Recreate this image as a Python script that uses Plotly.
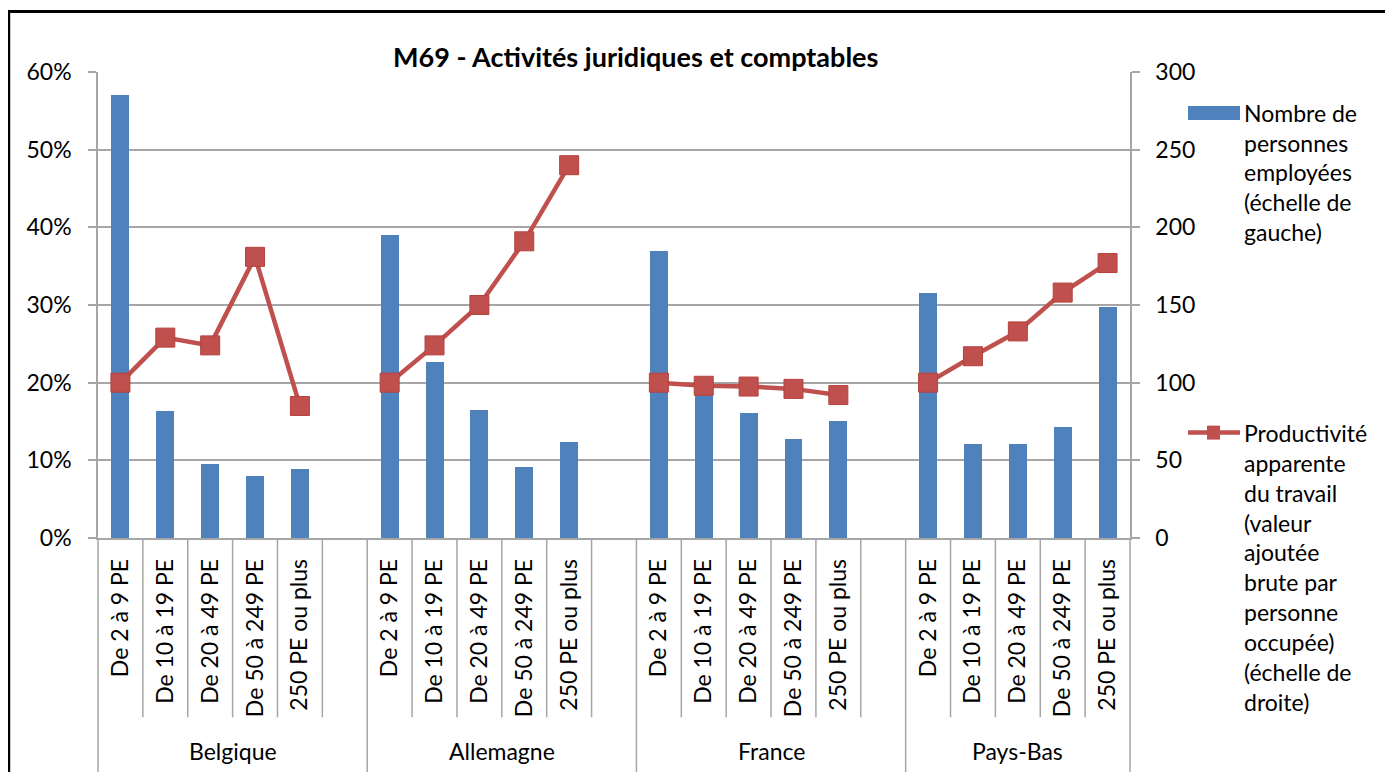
import plotly.graph_objects as go

# ---------------- data ----------------
countries = ["Belgique", "Allemagne", "France", "Pays-Bas"]
size_classes = ["De 2 à 9 PE", "De 10 à 19 PE", "De 20 à 49 PE",
                "De 50 à 249 PE", "250 PE ou plus"]
# share of persons employed (left axis, fraction)
emp_belgique = [0.571, 0.163, 0.095, 0.080, 0.089]
emp_allemagne = [0.390, 0.226, 0.165, 0.092, 0.123]
emp_france = [0.369, 0.195, 0.161, 0.127, 0.151]
emp_paysbas = [0.315, 0.121, 0.121, 0.143, 0.298]
# apparent labour productivity index (right axis)
prod_belgique = [100, 129, 124, 181, 85]
prod_allemagne = [100, 124, 150, 191, 240]
prod_france = [100, 98, 97.5, 96, 92]
prod_paysbas = [100, 117, 133, 158, 177]

left_ticks = [0, 0.1, 0.2, 0.3, 0.4, 0.5, 0.6]
right_ticks = [0, 50, 100, 150, 200, 250, 300]

title = "M69 - Activités juridiques et comptables"
legend_bar = ["Nombre de", "personnes", "employées", "(échelle de", "gauche)"]
legend_line = ["Productivité", "apparente", "du travail", "(valeur", "ajoutée",
               "brute par", "personne", "occupée)", "(échelle de", "droite)"]

emp = [emp_belgique, emp_allemagne, emp_france, emp_paysbas]
prod = [prod_belgique, prod_allemagne, prod_france, prod_paysbas]

# ---------------- build slots (5 classes + 1 gap per country, last w/o gap) ----------------
x_pos, x_lab, bar_y, line_y = [], [], [], []
group_start = []
slot = 0
for gi, c in enumerate(countries):
    group_start.append(slot)
    for ci, s in enumerate(size_classes):
        x_pos.append(slot + 0.5)
        x_lab.append(s)
        bar_y.append(emp[gi][ci])
        line_y.append(prod[gi][ci])
        slot += 1
    if gi < len(countries) - 1:
        x_pos.append(slot + 0.5)
        x_lab.append("")
        bar_y.append(None)
        line_y.append(None)
        slot += 1
n_slots = slot
group_start.append(n_slots)

# page has an 8px body margin: figure drawn at (8, 8) in the window
OFF = 8
W, H = 1393 - OFF, 772 - OFF
# plot-area edges in window pixels
WL, WR, WT, WB = 98, 1130, 72, 538.5
L, R, T, B = WL - OFF, WR - OFF, WT - OFF, WB - OFF
PW, PH = R - L, B - T

def px(x):  # window pixel -> paper x
    return (x - OFF - L) / PW

def py(y):  # window pixel -> paper y
    return (B - (y - OFF)) / PH

FONT = "Lato"
FS = 23
BLUE = "#4F81BD"
RED = "#C0504D"
GRID = "#A6A6A6"

fig = go.Figure()
fig.add_trace(go.Bar(x=x_pos, y=bar_y, marker=dict(color=BLUE, line=dict(width=0)),
                     width=0.4, name="Nombre de personnes employées", yaxis="y",
                     showlegend=False))
fig.add_trace(go.Scatter(x=x_pos, y=line_y, mode="lines+markers", yaxis="y2",
                         line=dict(color=RED, width=4.5),
                         marker=dict(symbol="square", size=19, color=RED,
                                     line=dict(color="#B5403D", width=1)),
                         connectgaps=False, showlegend=False,
                         name="Productivité apparente du travail"))

shapes = []
# outer chart border
shapes.append(dict(type="rect", xref="paper", yref="paper",
                   x0=px(8.7), x1=px(1410), y0=py(11.5), y1=py(790),
                   line=dict(color="black", width=3), fillcolor="rgba(0,0,0,0)",
                   layer="below"))
# category separators
for s in range(n_slots + 1):
    is_group = s in group_start
    shapes.append(dict(type="line", xref="paper", yref="paper",
                       x0=s / n_slots, x1=s / n_slots, y0=0,
                       y1=py(790) if is_group else py(718),
                       line=dict(color=GRID, width=1.5)))

annotations = [dict(text="<b>" + title + "</b>", x=px(635), y=py(56), xref="paper",
                    yref="paper", showarrow=False, xanchor="center", yanchor="middle",
                    font=dict(family=FONT, size=27, color="black"))]
for gi, c in enumerate(countries):
    xc = (group_start[gi] + group_start[gi + 1]) / 2 / n_slots
    annotations.append(dict(text=c, x=xc, y=py(752), xref="paper", yref="paper",
                            showarrow=False, xanchor="center", yanchor="middle",
                            font=dict(family=FONT, size=FS, color="black")))

# legend (manual)
shapes.append(dict(type="rect", xref="paper", yref="paper", x0=px(1188), x1=px(1240),
                   y0=py(120), y1=py(106), fillcolor=BLUE, line=dict(width=0)))
shapes.append(dict(type="line", xref="paper", yref="paper", x0=px(1188), x1=px(1240),
                   y0=py(433), y1=py(433), line=dict(color=RED, width=4.5)))
shapes.append(dict(type="rect", xref="paper", yref="paper", x0=px(1207), x1=px(1220),
                   y0=py(440), y1=py(426), fillcolor=RED, line=dict(width=0)))
for i, t in enumerate(legend_bar):
    annotations.append(dict(text=t, x=px(1242), y=py(113 + 29.7 * i), xref="paper",
                            yref="paper", showarrow=False, xanchor="left",
                            yanchor="middle",
                            font=dict(family=FONT, size=FS, color="black")))
for i, t in enumerate(legend_line):
    annotations.append(dict(text=t, x=px(1242), y=py(433 + 30 * i), xref="paper",
                            yref="paper", showarrow=False, xanchor="left",
                            yanchor="middle",
                            font=dict(family=FONT, size=FS, color="black")))

fig.update_layout(
    width=W, height=H,
    margin=dict(l=L, r=W - R, t=T, b=H - B, pad=0),
    paper_bgcolor="white", plot_bgcolor="white",
    font=dict(family=FONT, size=FS, color="black"),
    bargap=0,
    xaxis=dict(range=[0, n_slots], tickmode="array", tickvals=x_pos, ticktext=x_lab,
               tickangle=-90, ticks="", showgrid=False, zeroline=False,
               showline=True, linecolor=GRID, linewidth=1.5,
               tickfont=dict(family=FONT, size=FS, color="black"),
               ticklabelstandoff=10),
    yaxis=dict(range=[0, 0.6], tickmode="array", tickvals=left_ticks,
               tickformat=".0%", showgrid=True, gridcolor=GRID, gridwidth=1.5,
               zeroline=False, showline=True, linecolor=GRID, linewidth=1.5,
               ticks="outside", ticklen=8, tickcolor=GRID, tickwidth=1.5,
               ticklabelstandoff=12,
               tickfont=dict(family=FONT, size=FS, color="black")),
    yaxis2=dict(range=[0, 300], tickmode="array", tickvals=right_ticks,
                overlaying="y", side="right", showgrid=False, zeroline=False,
                showline=True, linecolor=GRID, linewidth=1.5,
                ticks="outside", ticklen=8, tickcolor=GRID, tickwidth=1.5,
                ticklabelstandoff=11,
                tickfont=dict(family=FONT, size=FS, color="black")),
    shapes=shapes, annotations=annotations,
    showlegend=False,
)

fig.write_html("out.html")
